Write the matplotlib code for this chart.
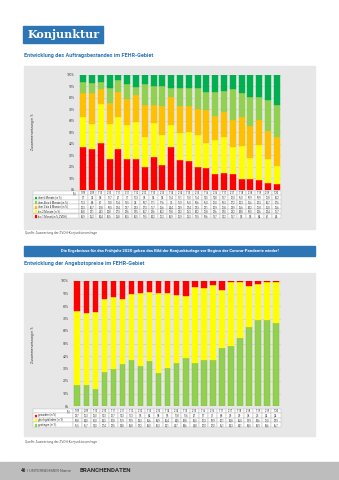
import numpy as np
import matplotlib as mpl

mpl.use("Agg")
from matplotlib import pyplot as plt
from matplotlib.patches import Rectangle

plt.rcParams['font.family'] = ['Roboto', 'DejaVu Sans']

W, H = 339, 480

quartale = ["1/09", "2/09", "1/10", "2/10", "1/11", "2/11", "1/12", "2/12", "1/13", "2/13",
            "1/14", "2/14", "1/15", "2/15", "1/16", "2/16", "1/17", "2/17", "1/18", "2/18",
            "1/19", "2/19", "1/20"]

# Auftragsbestand, Anteile in %
ueber_6 = [5.7, 7.4, 5.8, 11.7, 4.1, 7.7, 10.3, 7.8, 9.4, 9.4, 11.4, 11.1, 11.0, 11.4, 14.5,
           14.8, 13.7, 12.0, 16.0, 18.9, 18.9, 21.8, 26.2]
ueber_4_6 = [10.3, 8.6, 6.7, 13.0, 10.4, 13.5, 7.4, 18.7, 17.1, 17.6, 7.5, 15.9, 16.0, 18.6,
             16.0, 21.0, 18.3, 27.2, 20.3, 25.6, 20.3, 26.7, 27.6]
ueber_2_4 = [20.3, 26.7, 12.8, 18.0, 22.4, 22.7, 23.3, 27.3, 15.7, 25.6, 24.4, 23.9, 22.4, 22.3,
             29.1, 20.9, 21.8, 23.9, 25.6, 28.2, 21.8, 25.0, 25.6]
bis_2 = [26.8, 22.1, 34.3, 30.8, 27.3, 29.6, 32.5, 26.7, 29.6, 26.2, 19.8, 23.2, 25.3, 28.2,
         21.8, 29.6, 32.0, 23.2, 28.8, 18.0, 30.6, 20.4, 15.7]
bis_1 = [36.9, 35.2, 40.4, 26.5, 35.8, 26.5, 26.5, 19.5, 28.2, 21.2, 36.9, 25.9, 25.3, 19.5,
         18.6, 13.7, 14.2, 13.7, 9.3, 9.3, 8.4, 6.1, 4.9]

# Angebotspreise, Anteile in %
gesunken = [23.7, 25.3, 25.0, 14.3, 12.7, 14.3, 10.3, 9.5, 8.4, 9.8, 9.5, 10.8, 11.6, 4.7, 5.7,
            3.1, 6.8, 0.9, 0.9, 3.6, 2.5, 0.4, 0.4]
gleich = [59.8, 58.0, 61.0, 58.3, 57.8, 51.9, 52.9, 58.3, 55.6, 63.9, 60.4, 54.5, 49.8, 60.5,
          57.3, 59.9, 47.1, 50.8, 45.0, 32.9, 28.6, 31.0, 32.9]
gestiegen = [16.5, 16.7, 14.0, 27.4, 29.5, 33.8, 36.8, 32.2, 36.0, 26.3, 30.1, 34.7, 38.6, 34.8,
             37.0, 37.0, 46.1, 48.3, 54.1, 63.5, 68.9, 68.6, 66.7]

yticks = [0, 10, 20, 30, 40, 50, 60, 70, 80, 90, 100]

ROT = "#ff0000"
GELB = "#ffff00"
ORANGE = "#ffc000"
HELLGRUEN = "#92d050"
DUNKELGRUEN = "#00b050"
BLAU = "#2e75b6"
PANEL = "#e7e7e7"


def box(x0, y0, x1, y1):
    # Pixelrechteck (oben links / unten rechts) -> Figure-Koordinaten
    return [x0 / W, 1 - y1 / H, (x1 - x0) / W, (y1 - y0) / H]


def fmt(v):
    return f"{v:.1f}".replace(".", ",")


fig = plt.figure(figsize=(W / 100, H / 100), dpi=100)
page = fig.add_axes([0, 0, 1, 1])
page.set_xlim(0, W)
page.set_ylim(H, 0)
page.axis("off")

# Kopf
page.add_patch(Rectangle((23, 26), 80, 17, color=BLAU))
page.text(28, 34.8, "Konjunktur", color="white", fontsize=8, fontweight="bold",
          family="DejaVu Serif", va="center", ha="left")
page.text(24, 56, "Entwicklung des Auftragsbestandes im FEHR-Gebiet", color=BLAU,
          fontsize=4, fontweight="bold", va="center")
page.add_patch(Rectangle((24, 66), 291, 163, color=PANEL))

page.add_patch(Rectangle((24, 246), 291, 10, color=BLAU))
page.text(169.5, 251.2, "Die Ergebnisse für das Frühjahr 2020 geben das Bild der Konjunkturlage "
          "vor Beginn der Corona-Pandemie wieder!", color="white", fontsize=3.1,
          fontweight="bold", ha="center", va="center")
page.text(24, 264, "Entwicklung der Angebotspreise im FEHR-Gebiet", color=BLAU,
          fontsize=4, fontweight="bold", va="center")
page.add_patch(Rectangle((24, 273), 291, 163, color=PANEL))

for y in (233, 441.5):
    page.text(25, y, "Quelle: Auswertung der ZVDH-Konjunkturumfrage", color="#606060",
              fontsize=2.3, va="center")

# Fußzeile
page.add_patch(Rectangle((0, 462), W, 18, color="#bdbdbd"))
page.text(21, 471, "46", color="#333333", fontsize=3.3, fontweight="bold", va="center")
page.text(27, 471, "| UNTERNEHMER Name", color="#555555", fontsize=3.0, va="center")
page.text(80, 471, "BRANCHENDATEN", color="#2b2b2b", fontsize=4.4, fontweight="bold",
          va="center")


def bar_chart(x0, x1, ytop, ybot, stacks, width):
    ax = fig.add_axes(box(x0, ytop, x1, ybot))
    ax.set_facecolor("none")
    x = np.arange(len(quartale))
    bottom = np.zeros(len(quartale))
    for werte, farbe, kante in stacks:
        ax.bar(x, werte, width=width, bottom=bottom, color=farbe, edgecolor=kante,
               linewidth=0.3, zorder=3)
        bottom += np.array(werte)
    ax.set_xlim(-0.5, len(quartale) - 0.5)
    ax.set_ylim(0, 100)
    ax.set_yticks(yticks)
    ax.set_yticklabels([f"{t}%" for t in yticks], fontsize=2.3, color="#404040")
    ax.set_xticks([])
    ax.tick_params(length=0, pad=3)
    ax.grid(axis="y", color="#c9c9c9", linewidth=0.4, zorder=0)
    for s in ax.spines.values():
        s.set_visible(False)
    return ax


def tabelle(x_label, x0, x1, ytop, row_h, kopf, zeilen):
    n = len(quartale)
    col_w = (x1 - x0) / n
    rows = [(kopf, None, quartale)] + zeilen
    for r, (label, farbe, werte) in enumerate(rows):
        y = ytop + r * row_h
        page.add_patch(Rectangle((x_label, y), x0 - x_label, row_h, facecolor="white",
                                 edgecolor="#b5b5b5", linewidth=0.3))
        if farbe is None:
            page.text(x0 - 2, y + row_h / 2, label, fontsize=1.9, ha="right", va="center",
                      color="#333333")
        else:
            page.add_patch(Rectangle((x_label + 1.5, y + row_h / 2 - 0.9), 1.8, 1.8,
                                     color=farbe))
            page.text(x_label + 4.5, y + row_h / 2, label, fontsize=1.9, va="center",
                      color="#333333")
        for i, v in enumerate(werte):
            cx = x0 + i * col_w
            page.add_patch(Rectangle((cx, y), col_w, row_h, facecolor="white",
                                     edgecolor="#b5b5b5", linewidth=0.3))
            txt = v if isinstance(v, str) else fmt(v)
            page.text(cx + col_w / 2, y + row_h / 2, txt, fontsize=1.8, ha="center",
                      va="center", color="#333333")


# Diagramm 1: Auftragsbestand
ax1 = bar_chart(78.9, 281.1, 75, 189.5,
                [(bis_1, ROT, ROT), (bis_2, GELB, GELB), (ueber_2_4, ORANGE, ORANGE),
                 (ueber_4_6, HELLGRUEN, HELLGRUEN), (ueber_6, DUNKELGRUEN, DUNKELGRUEN)],
                0.68)
page.text(33, 132, "Zusammensetzung in %", rotation=90, fontsize=2.5, ha="center",
          va="center", color="#404040")
tabelle(33, 78.9, 281.1, 190.5, 4.6, "(%)",
        [("über 6 Monate (in %)", DUNKELGRUEN, ueber_6),
         ("über 4 bis 6 Monate (in %)", HELLGRUEN, ueber_4_6),
         ("über 2 bis 4 Monate (in %)", ORANGE, ueber_2_4),
         ("bis 2 Monate (in %)", GELB, bis_2),
         ("bis 1 Monat (in %, ZVDH)", ROT, bis_1)])

# Diagramm 2: Angebotspreise
ax2 = bar_chart(72.8, 280.5, 281, 406,
                [(gestiegen, HELLGRUEN, "#7cb83e"), (gleich, GELB, GELB), (gesunken, ROT, ROT)],
                0.63)
page.text(33, 345, "Zusammensetzung in %", rotation=90, fontsize=2.5, ha="center",
          va="center", color="#404040")
tabelle(33, 72.8, 280.5, 408.5, 4.6, "(%)",
        [("gesunken (in %)", ROT, gesunken),
         ("gleichgeblieben (in %)", GELB, gleich),
         ("gestiegen (in %)", HELLGRUEN, gestiegen)])

fig.savefig("out.png", dpi=100)
